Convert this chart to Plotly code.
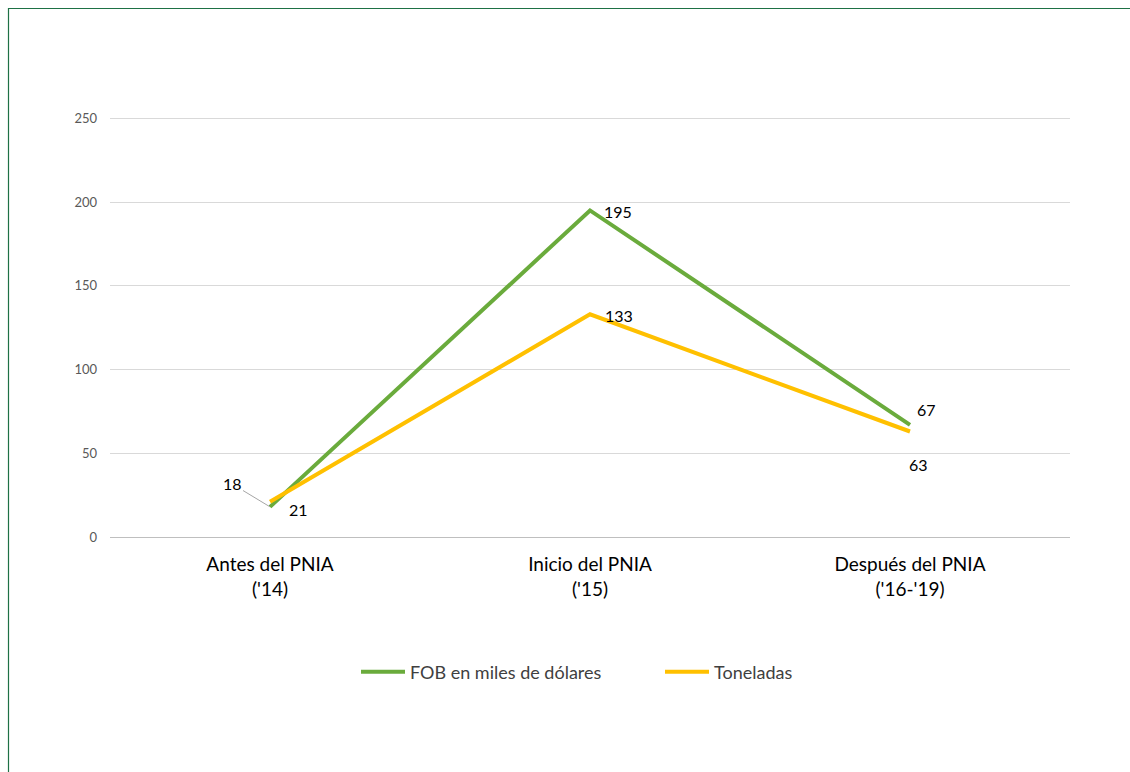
import plotly.graph_objects as go

# Categorías y series
categorias = ["Antes del PNIA<br>('14)", "Inicio del PNIA<br>('15)", "Después del PNIA<br>('16-'19)"]
fob_miles = [18, 195, 67]
toneladas = [21, 133, 63]
y_ticks = [0, 50, 100, 150, 200, 250]

VERDE = "#6AAB3C"
AMARILLO = "#FFC000"
FUENTE = "Lato, 'Open Sans', sans-serif"

W, H = 1130, 772
ML, MR, MT, MB = 110, 60, 115, 235
Y_MAX = 252

fig = go.Figure()
fig.add_trace(go.Scatter(
    x=categorias, y=fob_miles, mode="lines", name="FOB en miles de dólares",
    line=dict(color=VERDE, width=4),
))
fig.add_trace(go.Scatter(
    x=categorias, y=toneladas, mode="lines", name="Toneladas",
    line=dict(color=AMARILLO, width=4),
))

# Etiquetas de datos
lbl = dict(showarrow=False, font=dict(family=FUENTE, size=16, color="#000000"))
fig.add_annotation(x=categorias[0], y=fob_miles[0], text=str(fob_miles[0]),
                   showarrow=True, arrowhead=0, arrowwidth=1, arrowcolor="#a6a6a6",
                   ax=-38, ay=-23, standoff=0,
                   font=dict(family=FUENTE, size=16, color="#000000"))
fig.add_annotation(x=categorias[0], y=toneladas[0], text=str(toneladas[0]),
                   xanchor="left", yanchor="middle", xshift=17, yshift=-8, **lbl)
fig.add_annotation(x=categorias[1], y=fob_miles[1], text=str(fob_miles[1]),
                   xanchor="left", yanchor="middle", xshift=12, yshift=-1, **lbl)
fig.add_annotation(x=categorias[1], y=toneladas[1], text=str(toneladas[1]),
                   xanchor="left", yanchor="middle", xshift=13, yshift=-1, **lbl)
fig.add_annotation(x=categorias[2], y=fob_miles[2], text=str(fob_miles[2]),
                   xanchor="left", yanchor="middle", xshift=5, yshift=15, **lbl)
fig.add_annotation(x=categorias[2], y=toneladas[2], text=str(toneladas[2]),
                   xanchor="center", yanchor="middle", xshift=8, yshift=-33, **lbl)

# Marco verde del gráfico (bordes superior e izquierdo)
px_x = lambda px: (px - ML) / (W - ML - MR)
px_y = lambda py: (H - MB - py) / (H - MT - MB)
fig.add_shape(type="line", xref="paper", yref="paper",
              x0=px_x(8), x1=px_x(W + 5), y0=px_y(8.5), y1=px_y(8.5),
              line=dict(color="#1E7145", width=1.2))
fig.add_shape(type="line", xref="paper", yref="paper",
              x0=px_x(8.5), x1=px_x(8.5), y0=px_y(8), y1=px_y(H + 5),
              line=dict(color="#1E7145", width=1.2))

fig.update_layout(
    width=W, height=H,
    margin=dict(l=ML, r=MR, t=MT, b=MB),
    paper_bgcolor="white", plot_bgcolor="white",
    font=dict(family=FUENTE),
    showlegend=True,
    legend=dict(
        orientation="h", x=px_x(356), y=px_y(672), xanchor="left", yanchor="middle",
        font=dict(family=FUENTE, size=18, color="#404040"),
        entrywidth=245, entrywidthmode="pixels",
        itemwidth=44,
    ),
    xaxis=dict(
        range=[-0.5, 2.5], showgrid=False, showline=False, zeroline=False,
        ticks="", tickfont=dict(family=FUENTE, size=19, color="#000000"),
        ticklabelstandoff=14,
    ),
    yaxis=dict(
        range=[0, Y_MAX], tickvals=y_ticks, showgrid=True, gridcolor="#D9D9D9",
        gridwidth=1, zeroline=True, zerolinecolor="#BFBFBF", zerolinewidth=1.3,
        showline=False, ticks="", ticklabelstandoff=12,
        tickfont=dict(family=FUENTE, size=13, color="#595959"),
    ),
)

fig.write_html("out.html")
